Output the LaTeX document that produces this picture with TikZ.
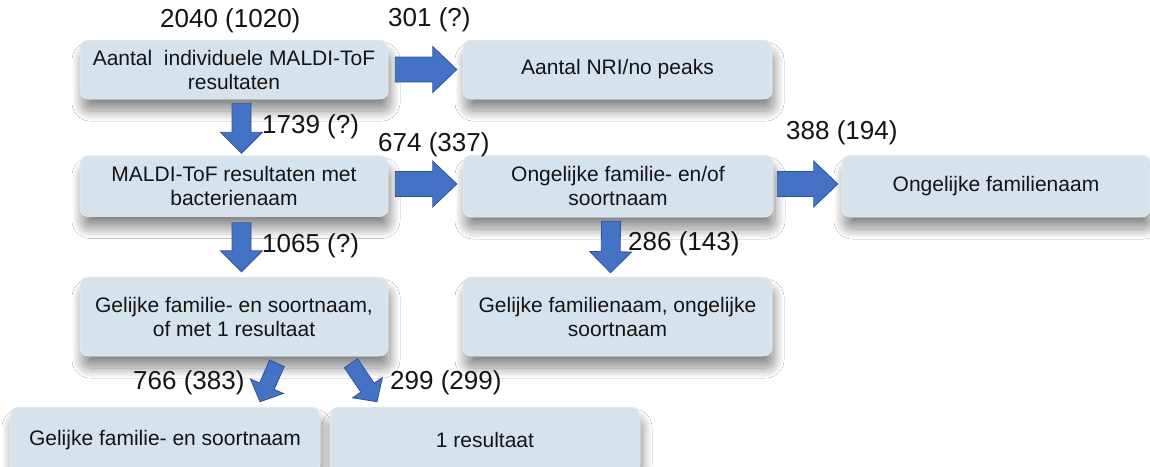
\documentclass[tikz,border=0pt]{standalone}
\usepackage{fontspec}
\setmainfont{Liberation Sans}
\usetikzlibrary{calc,shadows.blur}
\definecolor{boxfill}{RGB}{214,227,237}
\definecolor{arrowfill}{RGB}{68,114,196}
\definecolor{arrowline}{RGB}{47,85,151}
\definecolor{txt}{RGB}{20,20,20}
\newcommand\myblockarrow[6]{%
  \coordinate (ba-s) at #2;
  \coordinate (ba-e) at #3;
  \coordinate (ba-h) at ($(ba-e)!#6!(ba-s)$);
  \filldraw[#1] ($(ba-s)!#4!90:(ba-e)$) -- ($(ba-h)!#4!90:(ba-e)$) -- ($(ba-h)!#5!90:(ba-e)$)
    -- (ba-e) -- ($(ba-h)!#5!-90:(ba-e)$) -- ($(ba-h)!#4!-90:(ba-e)$) -- ($(ba-s)!#4!-90:(ba-e)$) -- cycle;}
\tikzset{
  box/.style={rounded corners=8pt, fill=boxfill, draw=white!50!boxfill, line width=0.5pt,
    align=center, text=txt, font=\fontsize{21}{24}\selectfont, inner sep=0pt,
    blur shadow={shadow xshift=2pt, shadow yshift=-12pt, shadow blur radius=10pt, shadow blur steps=20, shadow opacity=45}},
  lbl/.style={anchor=west, text=txt, font=\fontsize{26}{30}\selectfont, inner sep=0pt},
  barrowstyle/.style={fill=arrowfill, draw=arrowline, line width=0.8pt, line join=miter},
}
\begin{document}
\begin{tikzpicture}[x=1pt,y=-1pt]
\fill[white] (0,0) rectangle (1150,466);
\useasboundingbox (0,0) rectangle (1150,466);
% boxes
\node[box, minimum width=308pt, minimum height=59pt] (b1) at (234,69.5) {Aantal~ individuele MALDI-ToF\\resultaten};
\node[box, minimum width=309pt, minimum height=59pt] (b2) at (617.5,69.5) {Aantal NRI/no peaks};
\node[box, minimum width=308pt, minimum height=61pt] (b3) at (234,186) {MALDI-ToF resultaten met\\bacterienaam};
\node[box, minimum width=310pt, minimum height=62pt] (b4) at (618,186) {Ongelijke familie- en/of\\soortnaam};
\node[box, minimum width=308pt, minimum height=62pt] (b5) at (996,186) {Ongelijke familienaam};
\node[box, minimum width=308pt, minimum height=79pt] (b6) at (234,316.5) {Gelijke familie- en soortnaam,\\of met 1 resultaat};
\node[box, minimum width=309pt, minimum height=79pt] (b7) at (617.5,316.5) {Gelijke familienaam, ongelijke\\soortnaam};
\node[box, minimum width=310pt, minimum height=66pt] (b8) at (165,440) {Gelijke familie- en soortnaam};
\node[box, minimum width=310pt, minimum height=66pt] (b9) at (485,440) {1 resultaat};
% labels
\node[lbl] (l1) at (160,21) {2040 (1020)};
\node[lbl] (l2) at (388,20) {301 (?)};
\node[lbl] (l3) at (262,127) {1739 (?)};
\node[lbl] (l4) at (378,145) {674 (337)};
\node[lbl] (l5) at (786,133) {388 (194)};
\node[lbl] (l6) at (262,246) {1065 (?)};
\node[lbl] (l7) at (628,244) {286 (143)};
\node[lbl] (l8) at (133,383) {766 (383)};
\node[lbl] (l9) at (390,383) {299 (299)};
% block arrows
\myblockarrow{barrowstyle}{([xshift=7pt]b1.east)}{([xshift=-6pt]b2.west)}{12.5pt}{23pt}{24pt}
\myblockarrow{barrowstyle}{([xshift=7pt,yshift=2pt]b3.east)}{([xshift=-6pt,yshift=2pt]b4.west)}{12.5pt}{23pt}{24pt}
\myblockarrow{barrowstyle}{([xshift=4pt,yshift=2pt]b4.east)}{([xshift=-4pt,yshift=2pt]b5.west)}{12.5pt}{23pt}{24pt}
\myblockarrow{barrowstyle}{([xshift=7.5pt,yshift=-4pt]b1.south)}{([xshift=7.5pt,yshift=2pt]b3.north)}{9.5pt}{21pt}{21pt}
\myblockarrow{barrowstyle}{([xshift=7.5pt,yshift=-6pt]b3.south)}{([xshift=7.5pt,yshift=5pt]b6.north)}{9.5pt}{21pt}{21pt}
\myblockarrow{barrowstyle}{([xshift=-7pt,yshift=-4pt]b4.south)}{([xshift=-7pt,yshift=4pt]b7.north)}{9.5pt}{21pt}{21pt}
\myblockarrow{barrowstyle}{([xshift=43pt,yshift=-7pt]b6.south)}{([xshift=95pt,yshift=5pt]b8.north)}{8pt}{18pt}{17pt}
\myblockarrow{barrowstyle}{([xshift=117pt,yshift=-7pt]b6.south)}{([xshift=-108pt,yshift=5pt]b9.north)}{8pt}{18pt}{17pt}
\end{tikzpicture}
\end{document}
